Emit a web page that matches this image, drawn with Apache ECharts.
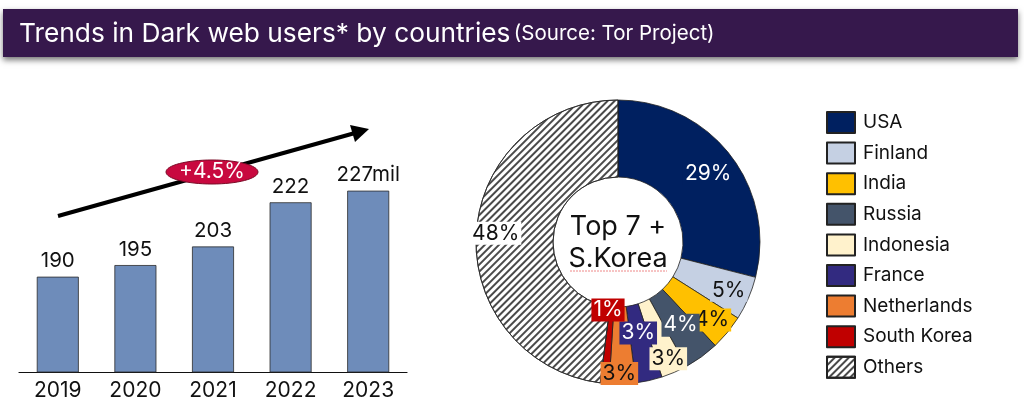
<!DOCTYPE html>
<html>
<head>
<meta charset="utf-8">
<script src="https://cdn.jsdelivr.net/npm/echarts@6/dist/echarts.min.js"></script>
<style>
html,body{margin:0;padding:0;background:#fff;}
#c{width:1024px;height:408px;}
</style>
</head>
<body>
<div id="c"></div>
<script>
// ---- data ----
var years = ['2019', '2020', '2021', '2022', '2023'];
var users = [190, 195, 203, 222, 227];
var countries = ['USA', 'Finland', 'India', 'Russia', 'Indonesia', 'France', 'Netherlands', 'South Korea', 'Others'];
var shares = [29, 5, 4, 4, 3, 3, 3, 1, 48];
var growthText = '+4.5%';

// ---- styles ----
var sliceColors = ['#002060', '#C5D0E3', '#FFC000', '#44546A', '#FFF2CC', '#322A80', '#ED7D31', '#C00000', '#FFFFFF'];
var labelColors = ['#fff', '#111', '#111', '#fff', '#111', '#fff', '#111', '#fff', '#111'];
var labelOffsets = [[6, -3], [13, 6], [12, 10], [0, -3], [8, 19], [-3, -13], [-2, 25], [0, 0], [-16, -2]];
var FONT = 'Inter, "Noto Sans", sans-serif';

var pieData = countries.map(function (n, i) {
  var item = {
    name: n,
    value: shares[i],
    itemStyle: { color: sliceColors[i] },
    label: {
      color: labelColors[i],
      backgroundColor: sliceColors[i],
      offset: labelOffsets[i]
    }
  };
  if (n === 'South Korea') {
    item.label.position = 'outside';
  }
  if (n === 'Others') {
    item.itemStyle.decal = {
      symbol: 'rect',
      symbolSize: 1,
      dashArrayX: [[1, 0]],
      dashArrayY: [1.1, 2.4],
      rotation: -Math.PI / 4,
      color: '#4a4a4a'
    };
  }
  return item;
});

var chart = echarts.init(document.getElementById('c'), null, { renderer: 'canvas' });
chart.setOption({
  backgroundColor: '#fff',
  animation: false,
  textStyle: { fontFamily: FONT },
  grid: { left: 19, right: 1024 - 407, top: 100, bottom: 36 },
  xAxis: {
    type: 'category',
    data: years,
    axisLine: { lineStyle: { color: '#111', width: 1.2 } },
    axisTick: { show: false },
    axisLabel: { color: '#111', fontSize: 21, margin: 8, fontFamily: FONT }
  },
  yAxis: {
    type: 'value',
    min: 149,
    max: 266,
    show: false,
    splitLine: { show: false }
  },
  legend: {
    orient: 'vertical',
    left: 826,
    top: 111,
    padding: 0,
    itemWidth: 28,
    itemHeight: 21,
    itemGap: 7.6,
    icon: 'rect',
    data: countries,
    textStyle: { fontSize: 19, lineHeight: 21, color: '#111', fontFamily: FONT, padding: [0, 0, 0, 3] }
  },
  series: [
    {
      type: 'bar',
      data: users,
      barWidth: 42,
      itemStyle: { color: '#6E8CBA', borderColor: '#2b2b2b', borderWidth: 0.8 },
      label: {
        show: true,
        position: 'top',
        distance: 5,
        fontSize: 20.5,
        color: '#111',
        fontFamily: FONT,
        formatter: function (p) {
          return p.dataIndex === users.length - 1 ? p.value + 'mil' : String(p.value);
        }
      }
    },
    {
      type: 'pie',
      center: [618, 242],
      radius: [65, 142],
      startAngle: 90,
      clockwise: true,
      avoidLabelOverlap: false,
      legendHoverLink: false,
      itemStyle: { borderColor: '#222', borderWidth: 0.8 },
      label: {
        show: true,
        position: 'inside',
        formatter: '{c}%',
        fontSize: 21,
        fontFamily: FONT,
        padding: [1, 2]
      },
      labelLine: { show: false },
      labelLayout: function (p) {
        if (p.dataIndex === 7) {
          return { x: 608, y: 310, align: 'center', verticalAlign: 'middle' };
        }
        return {};
      },
      data: pieData
    }
  ],
  graphic: [
    {
      type: 'rect',
      shape: { x: 3, y: 9, width: 1015, height: 48 },
      style: { fill: '#36184C', shadowBlur: 6, shadowColor: 'rgba(0,0,0,0.55)', shadowOffsetY: 3 },
      z: 10
    },
    {
      type: 'text',
      x: 19, y: 34,
      z: 11,
      style: {
        text: '{a|Trends in Dark web users* by countries} {b|(Source: Tor Project)}',
        verticalAlign: 'middle',
        rich: {
          a: { fontSize: 26.3, fill: '#fff', fontFamily: FONT },
          b: { fontSize: 20.5, fill: '#fff', fontFamily: FONT }
        }
      }
    },
    {
      type: 'line',
      shape: { x1: 58, y1: 216, x2: 355, y2: 133 },
      style: { stroke: '#000', lineWidth: 4 },
      z: 5
    },
    {
      type: 'polygon',
      shape: { points: [[369, 129], [355, 142], [350, 125]] },
      style: { fill: '#000' },
      z: 5
    },
    {
      type: 'ellipse',
      shape: { cx: 212, cy: 172, rx: 46, ry: 12 },
      style: { fill: '#C8093F', stroke: '#7a0a26', lineWidth: 1 },
      z: 6
    },
    {
      type: 'text',
      x: 212, y: 172, z: 7,
      style: { text: growthText, fill: '#fff', fontSize: 21, fontFamily: FONT, align: 'center', verticalAlign: 'middle' }
    },
    {
      type: 'text',
      x: 618, y: 243, z: 7,
      style: {
        text: 'Top 7 +\nS.Korea',
        fill: '#111', fontSize: 27, lineHeight: 32, fontFamily: FONT,
        align: 'center', verticalAlign: 'middle'
      }
    },
    {
      type: 'line',
      shape: { x1: 570, y1: 271, x2: 667, y2: 271 },
      style: { stroke: '#ee8888', lineWidth: 1, lineDash: [2, 1] },
      z: 7
    }
  ]
});
</script>
</body>
</html>
